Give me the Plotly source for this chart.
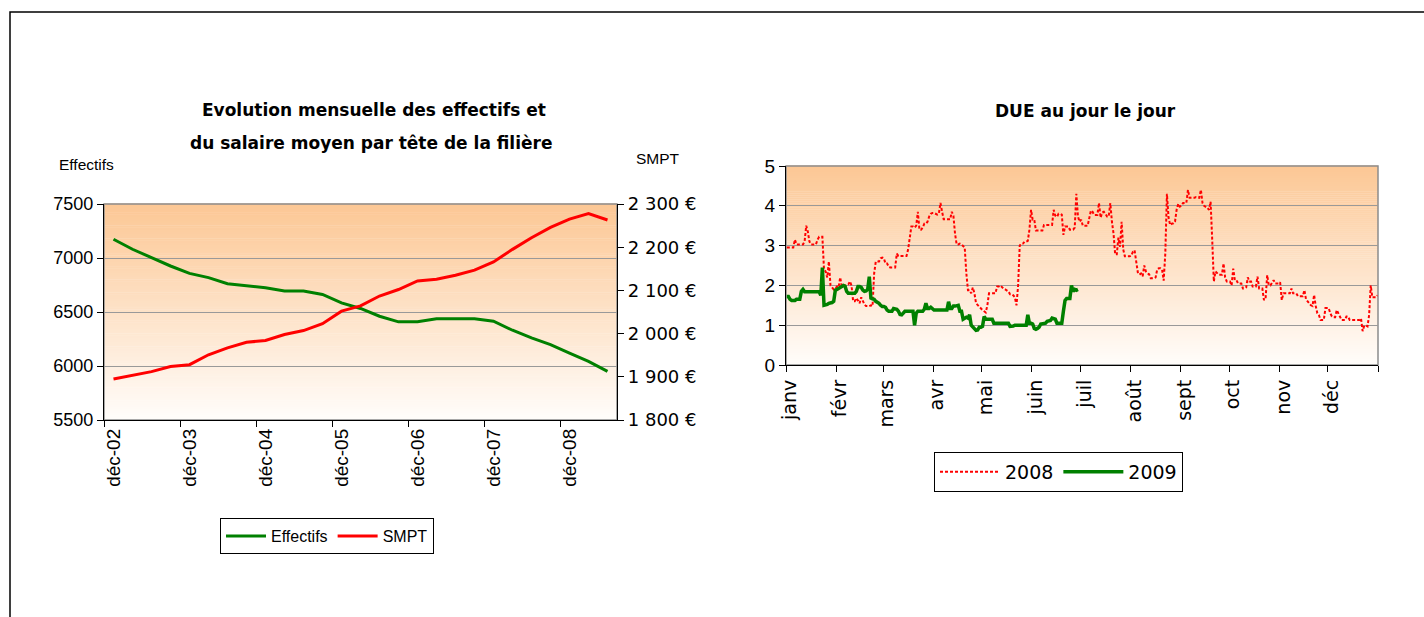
import plotly.graph_objects as go

W, H = 1424, 617

# ---------------- Left chart data (quarterly) ----------------
quarters = ['déc-02', 'mars-03', 'juin-03', 'sept-03', 'déc-03', 'mars-04', 'juin-04', 'sept-04',
            'déc-04', 'mars-05', 'juin-05', 'sept-05', 'déc-05', 'mars-06', 'juin-06', 'sept-06',
            'déc-06', 'mars-07', 'juin-07', 'sept-07', 'déc-07', 'mars-08', 'juin-08', 'sept-08',
            'déc-08', 'mars-09', 'juin-09']
effectifs = [7174, 7081, 7004, 6926, 6858, 6818, 6762, 6743, 6725, 6694, 6694, 6663, 6585, 6533,
             6461, 6409, 6409, 6437, 6437, 6437, 6415, 6331, 6260, 6198, 6120, 6043, 5950]
smpt = [1895, 1903, 1912, 1924, 1928, 1951, 1967, 1980, 1984, 1998, 2007, 2023, 2052, 2064,
        2087, 2102, 2122, 2126, 2135, 2147, 2166, 2195, 2222, 2246, 2265, 2278, 2263]

# ---------------- Right chart data (daily) ----------------
month_names = ['janv', 'févr', 'mars', 'avr', 'mai', 'juin', 'juil', 'août', 'sept', 'oct', 'nov', 'déc']
month_days_2008 = [31, 29, 31, 30, 31, 30, 31, 31, 30, 31, 30, 31]

due_2008 = [
    # janv
    2.95, 2.95, 2.95, 2.95, 2.95, 3.15, 3.03, 3.03, 3.03, 3.03, 3.03, 3.1, 3.5, 3.35, 3.1, 3.03,
    3.03, 3.03, 3.03, 3.15, 3.22, 3.22, 3.22, 2.4, 2.35, 2.2, 2.6, 2.0, 1.95, 1.9, 1.92,
    # févr
    1.97, 1.95, 2.2, 1.97, 2.0, 2.0, 2.0, 2.02, 2.1, 2.0, 1.6, 1.6, 1.68, 1.62, 1.55, 1.7, 1.6,
    1.52, 1.48, 1.48, 1.48, 1.5, 1.48, 2.3, 2.6, 2.6, 2.6, 2.68, 2.7,
    # mars
    2.68, 2.55, 2.55, 2.47, 2.45, 2.45, 2.45, 2.45, 2.8, 2.74, 2.74, 2.74, 2.74, 2.74, 2.74, 2.9,
    3.2, 3.48, 3.48, 3.45, 3.5, 3.85, 3.4, 3.4, 3.45, 3.55, 3.55, 3.6, 3.73, 3.8, 3.82,
    # avr
    3.82, 3.8, 3.78, 3.8, 4.07, 3.85, 3.66, 3.66, 3.66, 3.66, 3.66, 3.85, 3.75, 3.3, 3.03, 3.03,
    3.05, 3.03, 3.0, 2.95, 2.3, 1.88, 1.88, 1.8, 1.95, 1.8, 1.55, 1.5, 1.45, 1.42,
    # mai
    1.38, 1.35, 1.32, 1.5, 1.8, 1.8, 1.8, 1.8, 1.8, 1.97, 1.97, 2.0, 1.95, 1.92, 1.9, 1.88, 1.85,
    1.78, 1.78, 1.75, 1.7, 1.5, 2.0, 3.0, 3.05, 3.05, 3.1, 3.1, 3.12, 3.4, 3.9,
    # juin
    3.65, 3.65, 3.38, 3.38, 3.38, 3.38, 3.38, 3.52, 3.52, 3.52, 3.52, 3.52, 3.52, 3.9, 3.75, 3.72,
    3.8, 3.8, 3.78, 3.27, 3.48, 3.48, 3.48, 3.4, 3.4, 3.4, 3.45, 4.3, 3.73, 3.6,
    # juil
    3.65, 3.5, 3.5, 3.5, 3.5, 3.69, 3.88, 3.85, 3.77, 3.77, 3.77, 4.07, 3.7, 3.83, 3.85, 3.8,
    3.73, 3.73, 4.07, 3.6, 3.3, 2.78, 2.78, 3.2, 2.97, 3.6, 2.9, 2.73, 2.73, 2.73, 2.73,
    # août
    2.75, 2.85, 2.88, 2.63, 2.33, 2.27, 2.3, 2.23, 2.5, 2.35, 2.3, 2.28, 2.18, 2.18, 2.18, 2.2,
    2.4, 2.43, 2.43, 2.4, 2.12, 2.8, 4.3, 3.7, 3.52, 3.55, 3.56, 3.6, 3.9, 4.05, 3.98,
    # sept
    4.0, 4.07, 4.07, 4.07, 4.4, 4.2, 4.2, 4.2, 4.2, 4.22, 4.2, 4.2, 4.4, 4.07, 4.0, 3.98, 3.95,
    3.9, 4.1, 3.15, 2.1, 2.35, 2.3, 2.27, 2.27, 2.27, 2.55, 2.2, 2.1, 2.1,
    # oct
    2.1, 2.0, 2.42, 2.13, 2.13, 2.05, 2.05, 2.05, 1.92, 1.92, 1.95, 2.2, 2.1, 2.1, 1.97, 1.97,
    1.97, 2.22, 1.92, 1.92, 1.92, 1.63, 1.67, 2.26, 2.0, 2.0, 2.05, 2.13, 2.05, 2.05, 2.05,
    # nov
    2.08, 1.63, 1.8, 1.8, 1.8, 1.8, 1.8, 1.92, 1.8, 1.8, 1.8, 1.73, 1.73, 1.73, 1.73, 1.88, 1.65,
    1.6, 1.55, 1.5, 1.48, 1.76, 1.48, 1.3, 1.25, 1.13, 1.13, 1.13, 1.43, 1.43,
    # déc
    1.43, 1.3, 1.22, 1.2, 1.2, 1.38, 1.3, 1.25, 1.13, 1.13, 1.13, 1.22, 1.22, 1.13, 1.13, 1.13,
    1.13, 1.13, 1.13, 1.13, 1.17, 0.85, 0.99, 0.99, 0.97, 1.25, 2.0, 1.7, 1.7, 1.7, 1.75,
]

due_2009 = [
    # janv
    1.72, 1.72, 1.65, 1.62, 1.62, 1.62, 1.65, 1.65, 1.65, 1.85, 1.9, 1.84, 1.84, 1.84, 1.84, 1.84,
    1.84, 1.84, 1.84, 1.84, 1.84, 1.75, 2.45, 1.5, 1.5, 1.52, 1.55, 1.55, 1.57, 1.6, 1.88,
    # févr
    1.9, 1.93, 1.95, 1.97, 2.0, 1.98, 1.85, 1.8, 1.8, 1.82, 1.8, 1.8, 1.85, 1.97, 1.97, 1.95,
    1.88, 1.85, 1.86, 1.9, 2.22, 1.68, 1.66, 1.65, 1.6, 1.58, 1.55, 1.5,
    # mars
    1.47, 1.47, 1.45, 1.38, 1.35, 1.35, 1.35, 1.42, 1.42, 1.4, 1.35, 1.27, 1.26, 1.32, 1.35, 1.35,
    1.35, 1.35, 1.35, 1.35, 1.0, 1.3, 1.35, 1.35, 1.33, 1.35, 1.4, 1.55, 1.42, 1.42, 1.45,
    # avr
    1.4, 1.38, 1.38, 1.38, 1.38, 1.38, 1.38, 1.38, 1.38, 1.38, 1.59, 1.42, 1.42, 1.48, 1.48, 1.48,
    1.5, 1.35, 1.35, 1.15, 1.18, 1.2, 1.18, 1.26, 1.0, 0.95, 0.9, 0.87, 0.88, 0.95,
    # mai
    0.95, 0.97, 1.22, 1.15, 1.15, 1.16, 1.15, 1.15, 1.05, 1.05, 1.05, 1.05, 1.05, 1.05, 1.05, 1.05,
    1.05, 1.05, 0.97, 0.97, 0.98, 1.0, 1.0, 1.0, 1.0, 1.0, 1.0, 1.0, 1.0, 1.26, 1.05,
    # juin
    1.05, 1.03, 0.92, 0.9, 0.92, 0.95, 1.03, 1.03, 1.03, 1.05, 1.1, 1.1, 1.12, 1.18, 1.16, 1.15,
    1.05, 1.05, 1.03, 1.05, 1.35, 1.62, 1.67, 1.67, 1.67, 2.0, 1.85, 1.9, 1.88, 1.9,
]

# day index positions (category positions on the daily axis)
days_2008 = list(range(len(due_2008)))
days_2009 = list(range(len(due_2009)))
month_starts = []
acc = 0
for n in month_days_2008:
    month_starts.append(acc)
    acc += n
n_days = acc

# ---------------- Figure ----------------
fig = go.Figure()

GREEN = '#008000'
RED = '#FF0000'

fig.add_trace(go.Scatter(x=quarters, y=effectifs, name='Effectifs', mode='lines',
                         line=dict(color=GREEN, width=3), xaxis='x', yaxis='y', legend='legend'))
fig.add_trace(go.Scatter(x=quarters, y=smpt, name='SMPT', mode='lines',
                         line=dict(color=RED, width=3), xaxis='x', yaxis='y2', legend='legend'))

fig.add_trace(go.Scatter(x=days_2008, y=due_2008, name='2008', mode='lines',
                         line=dict(color=RED, width=2, dash='3px,2px'),
                         xaxis='x2', yaxis='y3', legend='legend2'))
fig.add_trace(go.Scatter(x=days_2009, y=due_2009, name='2009', mode='lines',
                         line=dict(color=GREEN, width=3.5),
                         xaxis='x2', yaxis='y3', legend='legend2'))


def px_x(v):
    return v / W


def px_y(v):
    return 1 - v / H


# background gradient bands (orange at top -> white at bottom)
top_rgb = (252, 199, 148)
bot_rgb = (255, 253, 251)
N = 100
shapes = []
for xr, yr in (('x domain', 'y domain'), ('x2 domain', 'y3 domain')):
    for i in range(N):
        t = (i + 0.5) / N
        c = tuple(round(bot_rgb[k] + (top_rgb[k] - bot_rgb[k]) * t) for k in range(3))
        shapes.append(dict(type='rect', xref=xr, yref=yr, x0=0, x1=1, y0=i / N, y1=(i + 1) / N + 0.002,
                           fillcolor='rgb(%d,%d,%d)' % c, line=dict(width=0), layer='below'))
    shapes.append(dict(type='rect', xref=xr, yref=yr, x0=0, x1=1, y0=0, y1=1,
                       line=dict(color='#8c8c8c', width=1.5), fillcolor='rgba(0,0,0,0)', layer='below'))

# outer frame
shapes.append(dict(type='rect', xref='paper', yref='paper', x0=px_x(10), x1=1.2, y0=-0.5, y1=px_y(12),
                   line=dict(color='black', width=1.5), fillcolor='rgba(0,0,0,0)', layer='above'))

ARIAL = 'Liberation Sans, Arial, sans-serif'
COMIC = 'DejaVu Sans, sans-serif'
GRID = '#999999'

annotations = [
    dict(text='<b>Evolution mensuelle des effectifs et</b>', x=px_x(374), y=px_y(110), xref='paper', yref='paper',
         showarrow=False, font=dict(family=COMIC, size=17, color='black'), xanchor='center', yanchor='middle'),
    dict(text='<b>du salaire moyen par tête de la filière</b>', x=px_x(371), y=px_y(143), xref='paper', yref='paper',
         showarrow=False, font=dict(family=COMIC, size=17, color='black'), xanchor='center', yanchor='middle'),
    dict(text='<b>DUE au jour le jour</b>', x=px_x(1085), y=px_y(111), xref='paper', yref='paper',
         showarrow=False, font=dict(family=COMIC, size=17, color='black'), xanchor='center', yanchor='middle'),
    dict(text='Effectifs', x=px_x(57), y=px_y(165), xref='paper', yref='paper', showarrow=False,
         font=dict(family=ARIAL, size=15.5, color='black'), xanchor='left', yanchor='middle'),
    dict(text='SMPT', x=px_x(634), y=px_y(158), xref='paper', yref='paper', showarrow=False,
         font=dict(family=ARIAL, size=15.5, color='black'), xanchor='left', yanchor='middle'),
]

fig.update_layout(
    template='none',
    width=W, height=H, autosize=False,
    margin=dict(l=0, r=0, t=0, b=0, pad=0, autoexpand=False),
    paper_bgcolor='white', plot_bgcolor='white',
    separators=', ',
    showlegend=True,
    shapes=shapes,
    annotations=annotations,
    xaxis=dict(domain=[px_x(104), px_x(617)], anchor='y', type='category', automargin=False,
               range=[-0.5, len(quarters) - 0.5], tickmode='linear', tick0=0, dtick=4,
               tickson='boundaries', ticks='outside', ticklen=6, tickcolor='black',
               showline=True, linecolor='black', linewidth=1.3, showgrid=False, zeroline=False,
               tickangle=-90, tickfont=dict(family=ARIAL, size=19, color='black')),
    yaxis=dict(domain=[px_y(420), px_y(204)], anchor='x', range=[5500, 7500], dtick=500,
               automargin=False, tickformat='d', ticks='outside', ticklen=6, tickcolor='black',
               showline=True, linecolor='black', linewidth=1.3,
               showgrid=True, gridcolor=GRID, gridwidth=1.3, zeroline=False,
               tickfont=dict(family=ARIAL, size=18, color='black')),
    yaxis2=dict(overlaying='y', side='right', anchor='x', range=[1800, 2300], dtick=100,
                automargin=False, tickformat=',d', ticksuffix=' €', ticks='outside', ticklen=6,
                tickcolor='black', showline=True, linecolor='black', linewidth=1.3,
                showgrid=False, zeroline=False,
                tickfont=dict(family=COMIC, size=18, color='black')),
    xaxis2=dict(domain=[px_x(786), px_x(1378)], anchor='y3', range=[-0.5, n_days - 0.5],
                automargin=False, tickmode='array',
                tickvals=[s - 0.5 for s in month_starts] + [n_days - 0.5],
                ticktext=month_names + [''], ticks='outside', ticklen=6, tickcolor='black',
                ticklabelshift=4,
                showline=True, linecolor='black', linewidth=1.3, showgrid=False, zeroline=False,
                tickangle=-90, tickfont=dict(family=COMIC, size=19, color='black')),
    yaxis3=dict(domain=[px_y(365), px_y(166)], anchor='x2', range=[0, 5], dtick=1,
                automargin=False, ticks='outside', ticklen=6, tickcolor='black',
                showline=True, linecolor='black', linewidth=1.3,
                showgrid=True, gridcolor=GRID, gridwidth=1.3, zeroline=False,
                tickfont=dict(family=ARIAL, size=19, color='black')),
    legend=dict(x=px_x(220), y=px_y(518), xanchor='left', yanchor='top', orientation='h',
                bordercolor='black', borderwidth=1, bgcolor='white',
                font=dict(family=ARIAL, size=16, color='black'), itemwidth=40,
                tracegroupgap=0),
    legend2=dict(x=px_x(934), y=px_y(452), xanchor='left', yanchor='top', orientation='h',
                 bordercolor='black', borderwidth=1, bgcolor='white',
                 font=dict(family=COMIC, size=19, color='black'), itemwidth=60),
)

fig.write_html('out.html', config={'displayModeBar': False},
               post_script="document.body.style.margin='0';document.body.style.overflow='hidden';")
